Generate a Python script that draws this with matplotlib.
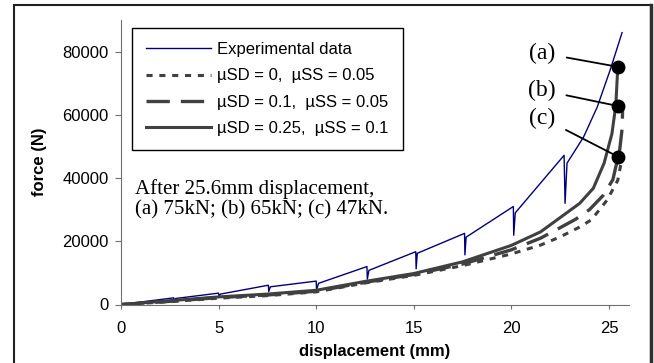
import matplotlib.pyplot as plt
from matplotlib.patches import Rectangle

# experimental data (sawtooth: peak, drop, recovery)
exp_x = [0, 2.7, 2.72, 2.8, 5.0, 5.02, 5.1, 7.55, 7.57, 7.65, 10.0, 10.02, 10.12,
         12.6, 12.62, 12.7, 15.1, 15.12, 15.18, 17.6, 17.62, 17.68, 20.1, 20.12, 20.2,
         22.7, 22.75, 22.85, 23.7, 24.4, 25.05, 25.67]
exp_y = [0, 2100, 1300, 1900, 3600, 2600, 3300, 6100, 4100, 5600, 7400, 4700, 6700,
         12000, 8000, 10800, 16700, 11300, 16200, 22500, 15700, 21300, 31000, 21900, 29000,
         47200, 32000, 44700, 53000, 62500, 74000, 86000]

# simulation, muSD = 0, muSS = 0.05
sim0_x = [0, 2.5, 5, 7.5, 10, 12.5, 15, 17.5, 20, 21.5, 22.5, 23.5, 24.1, 24.9, 25.45, 25.62]
sim0_y = [0, 900, 2000, 2800, 4000, 6800, 9200, 12300, 16000, 18800, 21400, 24500, 26800,
          33000, 39300, 44700]

# simulation, muSD = 0.1, muSS = 0.05
sim1_x = [0, 2.5, 5, 7.5, 10, 12.5, 15, 17.5, 20, 21.5, 22.5, 23.3, 24.0, 24.7, 25.2,
          25.55, 25.68, 25.7]
sim1_y = [0, 1000, 2200, 3000, 4200, 7000, 9500, 12800, 17300, 21000, 24300, 27000, 30000,
          34500, 39500, 49000, 56000, 63000]

# simulation, muSD = 0.25, muSS = 0.1
sim2_x = [0, 2.5, 5, 7.5, 10, 12.5, 15, 17.5, 20, 21.5, 22.5, 23.5, 24.2, 24.75, 25.15,
          25.35, 25.45, 25.5]
sim2_y = [0, 1200, 2400, 3300, 4500, 7300, 9800, 13500, 18700, 23000, 27500, 32000, 36800,
          44700, 54000, 63000, 75000, 76500]

# marked points at 25.6mm
mark_labels = ["(a)", "(b)", "(c)"]
mark_x = [25.45, 25.45, 25.45]
mark_y = [75200, 62800, 46800]
mark_text_x = [21.6, 21.55, 21.6]
mark_text_y = [79500, 67800, 59000]

gray = "#404040"
plt.rcParams["font.family"] = ["Liberation Sans", "DejaVu Sans"]

fig = plt.figure(figsize=(6.54, 3.63), dpi=100)
ax = fig.add_axes([121 / 654, 1 - 304.5 / 363, 507.5 / 654, 284.5 / 363])

ax.plot(exp_x, exp_y, color="#00007f", lw=1.0, label="Experimental data")
ax.plot(sim0_x, sim0_y, color=gray, lw=2.2, dashes=(2, 2.2),
        label="\u00b5SD = 0,  \u00b5SS = 0.05")
ax.plot(sim1_x, sim1_y, color=gray, lw=2.4, dashes=(7, 3.3),
        label="\u00b5SD = 0.1,  \u00b5SS = 0.05")
ax.plot(sim2_x, sim2_y, color=gray, lw=2.2, label="\u00b5SD = 0.25,  \u00b5SS = 0.1")

ax.plot(mark_x, mark_y, "o", color="black", ms=9, zorder=5)
for lab, mx, my, tx, ty in zip(mark_labels, mark_x, mark_y, mark_text_x, mark_text_y):
    ax.annotate(lab, xy=(mx, my), xytext=(tx, ty), ha="center", va="center",
                family="Liberation Serif", fontsize=17,
                arrowprops=dict(arrowstyle="-", color="black", lw=1.3,
                                shrinkA=6, shrinkB=0))

ax.text(0.7, 33300, "After 25.6mm displacement,\n(a) 75kN; (b) 65kN; (c) 47kN.",
        family="Liberation Serif", fontsize=15, va="center", ha="left",
        linespacing=1.1)

ax.set_xlim(0, 26)
ax.set_ylim(0, 90000)
ax.set_xticks([0, 5, 10, 15, 20, 25])
ax.set_yticks([0, 20000, 40000, 60000, 80000])
ax.tick_params(labelsize=12, colors="black")
ax.tick_params(axis="x", direction="out", length=3, pad=9, color="#707070")
ax.tick_params(axis="y", direction="out", length=4, pad=5, color="#707070")
for side in ["top", "right"]:
    ax.spines[side].set_visible(False)
for side in ["left", "bottom"]:
    ax.spines[side].set_color("#707070")

ax.set_xlabel("displacement (mm)", fontsize=12, fontweight="bold")
ax.set_ylabel("force (N)", fontsize=12, fontweight="bold")
ax.xaxis.set_label_coords(0.5, -0.14)
ax.yaxis.set_label_coords(-0.145, 0.5)

leg = ax.legend(loc="upper left", bbox_to_anchor=(132 / 654, 1 - 28 / 363),
                bbox_transform=fig.transFigure, borderaxespad=0, fontsize=12,
                handlelength=3.9, handletextpad=0.35, labelspacing=0.68,
                borderpad=0.85, fancybox=False, framealpha=1)
leg.get_frame().set_edgecolor("black")
leg.get_frame().set_linewidth(1.0)

# frame around the whole picture
fig.patches.append(Rectangle((13.5 / 654, -0.05), (651 - 13.5) / 654, 1.05 - 5 / 363,
                             transform=fig.transFigure, fill=False, ec="#202020", lw=1.5))
fig.lines.append(plt.Line2D([651 / 654, 651 / 654], [0, 1 - 5 / 363],
                            transform=fig.transFigure, color="#303030", lw=2.5))

fig.savefig("out.png", dpi=100)
